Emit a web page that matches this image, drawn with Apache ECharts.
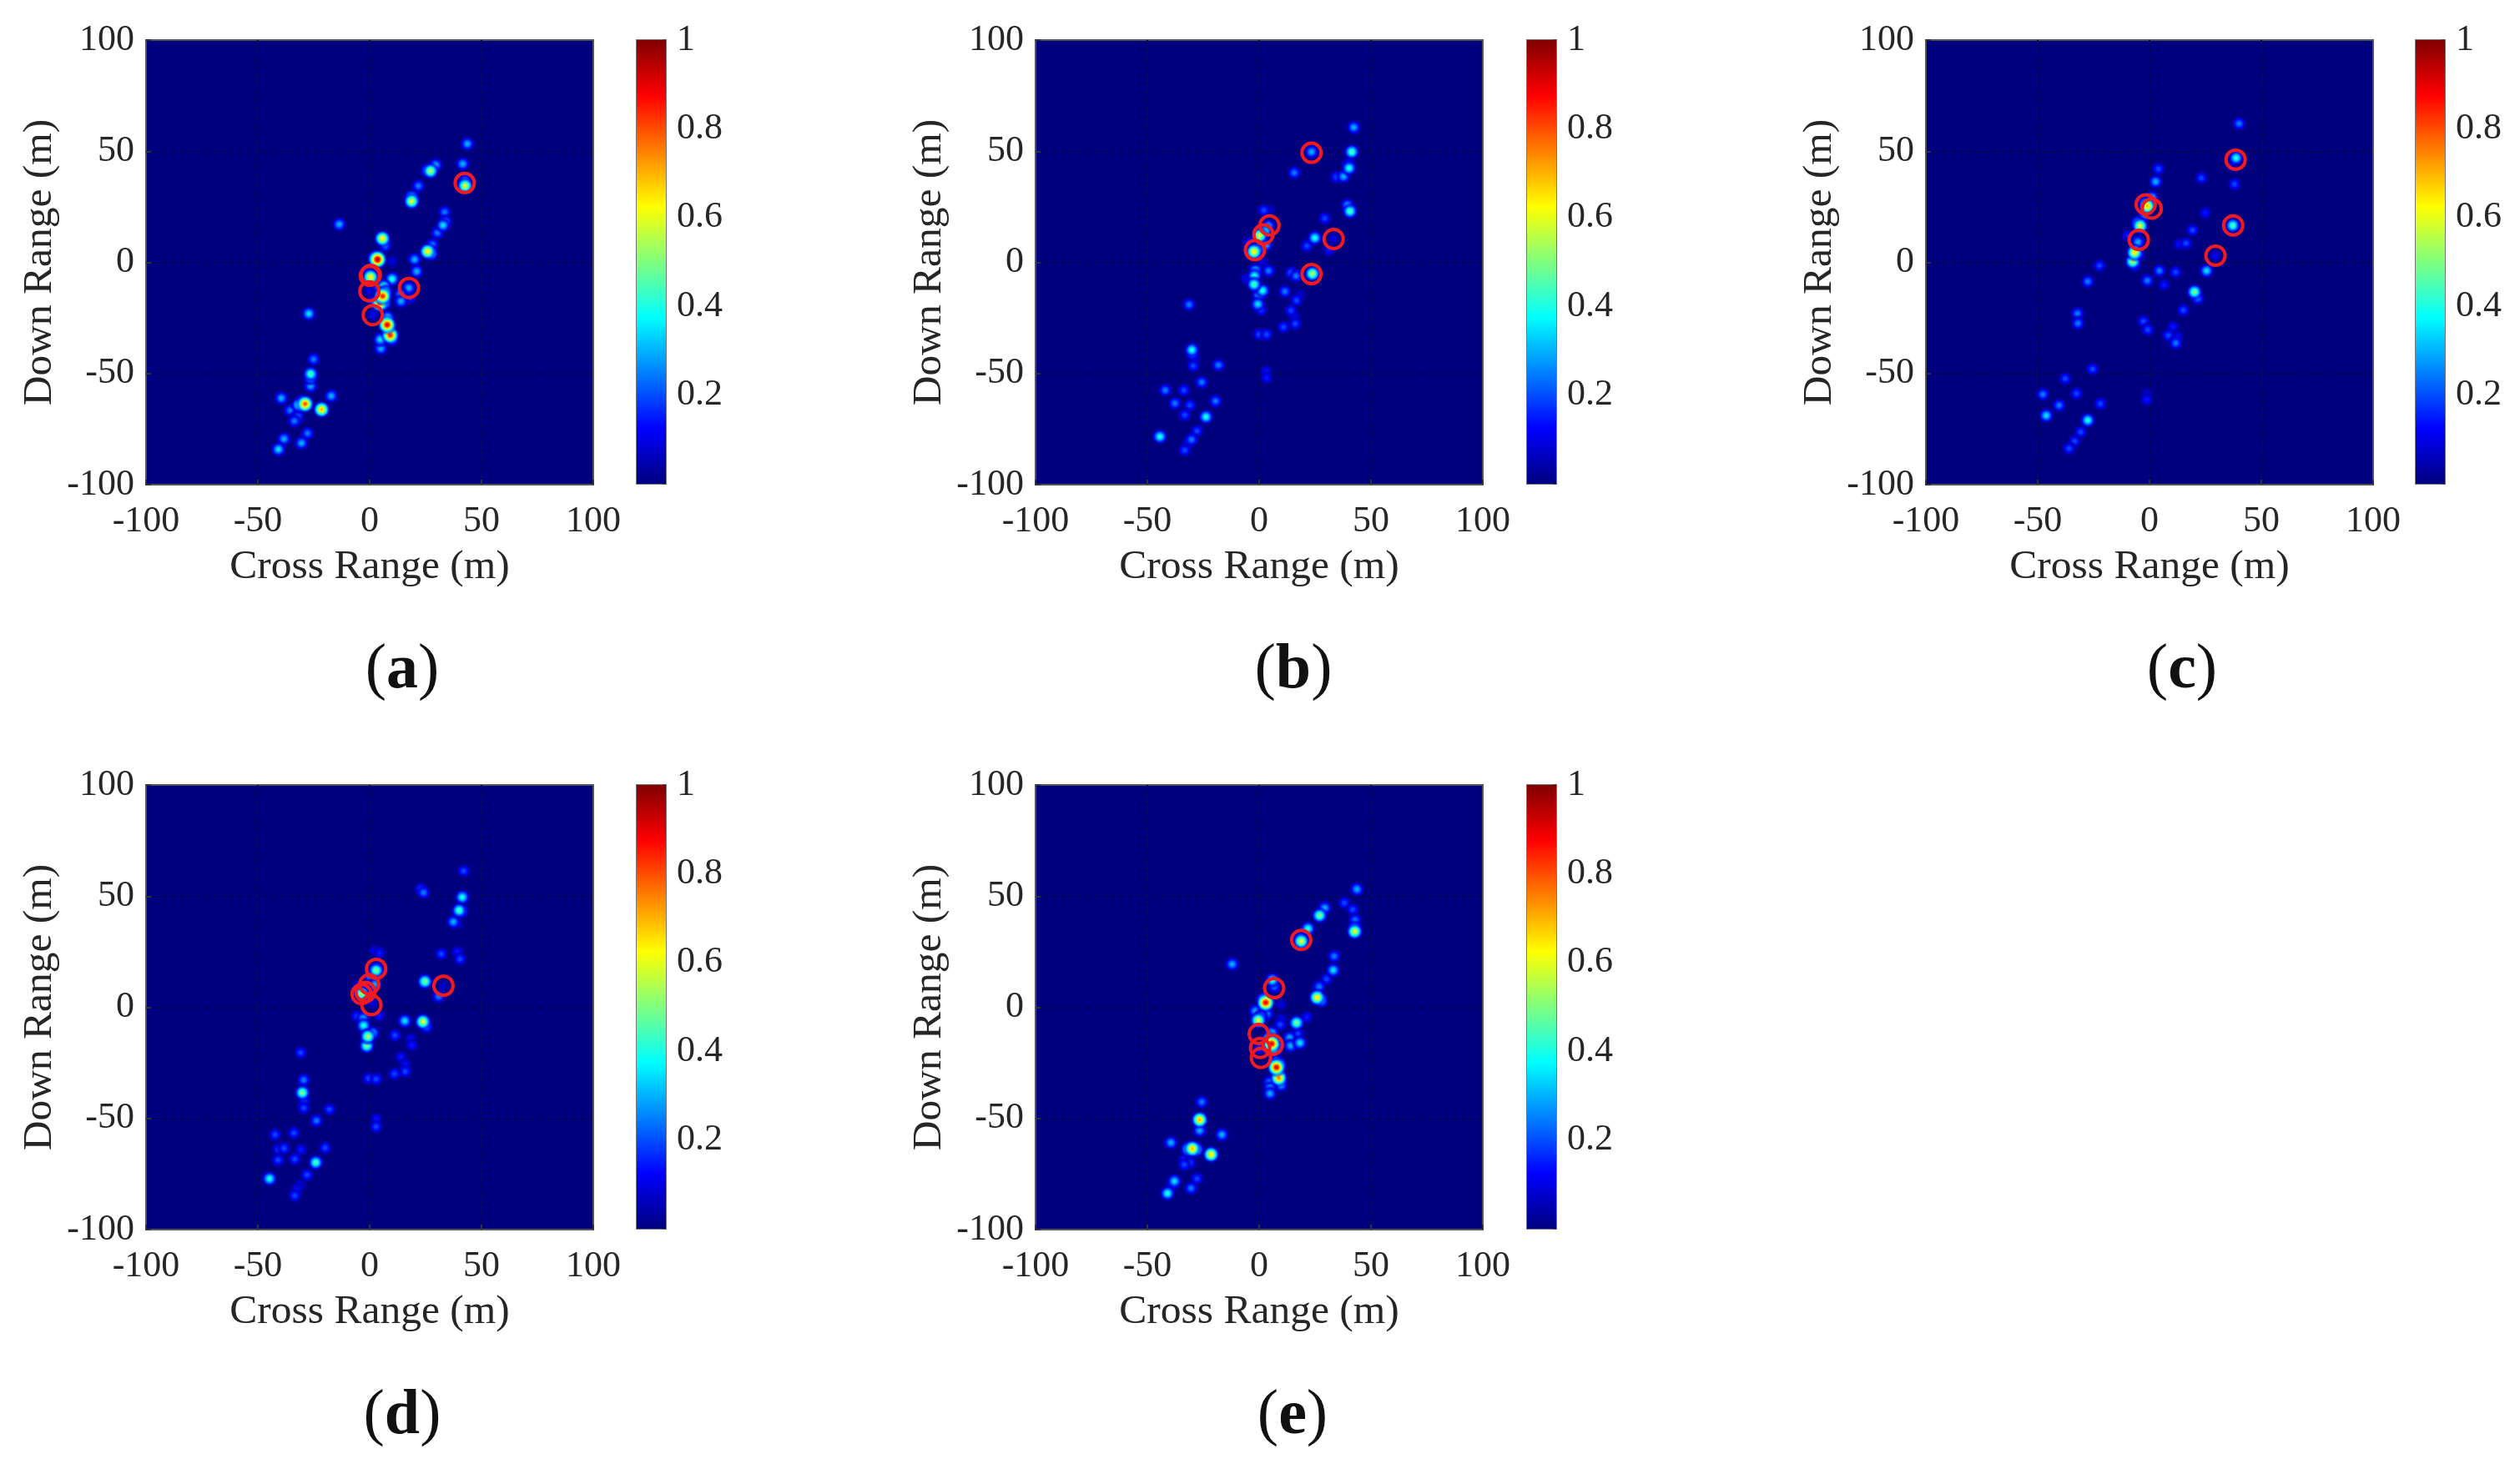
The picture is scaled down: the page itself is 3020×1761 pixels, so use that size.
<!DOCTYPE html>
<html>
<head>
<meta charset="utf-8">
<style>html,body{margin:0;padding:0;background:#fff}#c{width:3020px;height:1761px}</style>
<script src="https://cdn.jsdelivr.net/npm/echarts@6/dist/echarts.min.js"></script>
</head>
<body>
<div id="c"></div>
<script>
// Peak values: [cross range, down range, normalised amplitude]
const peaksA = [[43.7,53.3,.3],[41.6,44.3,.3],[29.5,43.8,.3],[27.2,41.1,.55],[25.8,41.4,.35],[21.8,34.4,.25],[42.7,36.7,.3],[42.7,34.4,.6],[18.8,29.2,.45],[18.8,27.5,.6],[33.5,22.6,.25],[33.9,18.2,.3],[32.8,16.7,.35],[30.3,13.3,.25],[28,8,.25],[25.9,4.9,.65],[27.4,4,.45],[-13.6,17.1,.3],[5.7,10.7,.65],[7,7.6,.25],[3.5,1.3,.95],[2.4,1.9,.5],[10,.4,.1],[20.1,1.3,.3],[21,-4.1,.3],[.4,-6.6,.65],[-1.1,-3.4,.15],[10,-7.5,.4],[17.5,-11.5,.3],[17.9,-15.9,.2],[13.8,-14.4,.3],[14,-17.5,.3],[6.3,-10.9,.45],[4.5,-11.2,.35],[5.8,-15.2,.85],[7,-13.4,.45],[4.5,-18.4,.8],[6.3,-18.2,.5],[2,-17.8,.25],[-.1,-13,.1],[1.4,-23.7,.12],[8,-24.7,.35],[7.8,-28.1,.9],[9.2,-32.8,.85],[10,-34.7,.3],[4.7,-34.7,.35],[5,-38.7,.3],[-27.2,-23.1,.35],[-25.1,-43.6,.25],[-26.4,-50.2,.45],[-26.4,-51.8,.4],[-26.4,-55.6,.3],[-17.2,-60.1,.3],[-39.5,-61.1,.3],[-28.9,-63.7,.8],[-31.6,-64.1,.45],[-30.2,-62.8,.4],[-21.5,-66.2,.7],[-35.6,-66.6,.25],[-32.2,-69.5,.25],[-33.7,-71.4,.25],[-27.8,-76.9,.25],[-38.3,-79.4,.3],[-30.5,-81.3,.3],[-40.8,-84.1,.35]];
const peaksB = [[42.3,60.7,.3],[41.4,49.7,.45],[23.4,49.7,.3],[15.7,40.3,.25],[40.2,42.4,.4],[40,44.3,.2],[37.7,38.6,.3],[34.5,38.4,.2],[39.5,25.7,.3],[40.6,23,.45],[29.3,19.8,.2],[24.9,11,.4],[21.3,7.4,.2],[31.2,5.5,.15],[33.3,10.7,.1],[23.8,-5.1,.55],[14.4,-4.8,.25],[16.5,-6.1,.25],[2.1,23.4,.2],[4.6,23.4,.1],[4.2,16.4,.3],[2.5,13.9,.4],[.2,12,.6],[3.1,7.8,.3],[-2.3,4.8,.65],[-.6,5.8,.35],[-4.8,9,.15],[1.5,0,.1],[4.2,-3.8,.25],[-1.7,-3.6,.35],[-2.1,-6.1,.4],[-2.3,-9.9,.45],[-5.9,-7.4,.12],[1.5,-12.7,.4],[0,-14.7,.35],[11.5,-13.1,.25],[-.6,-18.8,.35],[.8,-21.3,.2],[18.2,-14.7,.1],[16.7,-17.1,.2],[14.2,-21.7,.2],[15.7,-24.4,.15],[16.1,-27.6,.2],[10.9,-29.1,.2],[0,-32.4,.2],[3.3,-32.4,.2],[3.1,-49.1,.15],[3.3,-52,.15],[-31.4,-19,.25],[-30.1,-39.4,.4],[-29.9,-41,.3],[-28.9,-43.8,.15],[-29.5,-46.6,.2],[-18.2,-46.2,.25],[-25.7,-53.9,.25],[-42,-57.5,.25],[-33.7,-57.5,.2],[-37.7,-63.4,.25],[-31,-64.3,.2],[-19.5,-62.4,.25],[-33.3,-68.7,.2],[-23.8,-69.5,.4],[-44.4,-78.4,.4],[-27.8,-75.9,.2],[-30.3,-79.7,.25],[-31.6,-81.4,.2],[-33.3,-84.5,.2]];
const peaksC = [[40,62.4,.25],[38.7,47,.4],[36.6,43.4,.1],[38,35.2,.2],[23.2,37.9,.2],[4,42.1,.2],[2.7,36.3,.3],[1,29.1,.35],[-1,25.3,.7],[-1.9,26.6,.4],[-2.5,20.6,.25],[-4.2,16.4,.6],[-5.2,17.7,.4],[-9.8,12,.15],[-5.2,9.1,.3],[-6.7,4.4,.65],[-5.2,3.4,.3],[-7.5,.4,.55],[-6.7,-1.3,.2],[-22.4,-1.5,.2],[-27.6,-8.6,.25],[-32.2,-23,.25],[-32,-27.4,.25],[37.2,16.6,.45],[24.9,22.3,.15],[19.2,14.5,.2],[16.3,8.6,.2],[13.2,8.2,.15],[29.5,3,.12],[25.5,-3.8,.35],[4.4,-3.8,.25],[11.7,-4.4,.2],[-1,-8.2,.25],[6.5,-10.1,.15],[20.1,-13.3,.5],[21.5,-16.2,.25],[15.1,-21.5,.2],[-2.7,-26.5,.2],[-.8,-30.3,.2],[10.5,-29.1,.15],[8.4,-32.9,.2],[12.3,-33.5,.15],[11.7,-36.3,.25],[-25.5,-48,.2],[-37.7,-52.3,.2],[-47.7,-59.4,.25],[-32.6,-59,.2],[-1.3,-59.2,.1],[-1.3,-61.8,.15],[-40.4,-64.3,.25],[-22,-63.6,.2],[-46.2,-68.9,.35],[-27.6,-71,.4],[-30.8,-76.3,.2],[-33.5,-80.5,.2],[-36,-83.7,.2]];
const peaksD = [[42,61.3,.2],[41.4,49.5,.4],[23,53.1,.25],[24.1,51.6,.25],[40,43.6,.45],[41,43.2,.35],[37.4,38.4,.3],[39.5,37.6,.1],[32,24,.2],[39.3,24.9,.15],[40.4,21.7,.2],[24.7,11.6,.5],[30.8,4.8,.25],[33,9.5,.08],[2.3,25.3,.15],[4.4,24.5,.15],[2.9,16.6,.5],[3.3,17.9,.2],[.2,14.1,.3],[2.3,10.3,.3],[.2,8.4,.25],[-3.6,6.1,.55],[-.8,4.6,.3],[-5,9.3,.15],[1.3,1.7,.1],[-5.6,-4,.2],[-2.9,-4.9,.3],[4.4,-3.8,.15],[-2.7,-8.2,.4],[15.7,-6.1,.35],[23.8,-6.5,.6],[25.3,-8.8,.25],[1.3,-11.6,.35],[-.8,-13.1,.55],[-1.3,-17.3,.5],[11.3,-12.6,.2],[18.4,-14.5,.15],[18.8,-17.1,.15],[14,-22.5,.15],[15.9,-25.9,.15],[15.9,-28.9,.2],[11.1,-29.9,.2],[-.4,-32,.2],[2.9,-32.3,.2],[2.9,-50.4,.15],[2.9,-53.7,.2],[-30.8,-20.4,.2],[-29.5,-32.7,.25],[-30.1,-38.4,.5],[-29.3,-42.4,.2],[-29.5,-45.3,.2],[-18,-45.9,.2],[-23.8,-51,.25],[-42.3,-57.3,.2],[-33.9,-56.5,.2],[-40.8,-63.9,.2],[-38.3,-63.4,.2],[-30.8,-64.1,.15],[-19.9,-63.2,.2],[-41,-68.7,.2],[-33.5,-68.3,.2],[-24.1,-69.8,.45],[-28,-75.4,.2],[-44.8,-77.1,.4],[-31.2,-79.9,.12],[-32.6,-82,.15],[-33.5,-84.7,.2]];
const peaksE = [[43.7,53.1,.3],[38.1,47,.2],[41.8,44,.2],[42.9,39.2,.25],[42.7,34.1,.6],[42.7,35.6,.4],[29.3,44.7,.3],[27,41.3,.5],[21.8,35.4,.4],[18.8,29.7,.6],[18.4,31.2,.3],[33.5,23,.25],[33.1,16.7,.35],[30.1,12.7,.2],[26.8,9.3,.25],[25.9,4.4,.65],[27.6,3.2,.4],[-12.1,19.4,.3],[5.9,12.2,.4],[6.7,9.3,.25],[2.9,2.1,.9],[1.9,3.6,.4],[9.8,1.3,.1],[-1.7,-1.7,.3],[3.6,-3,.25],[.8,-4,.3],[-.4,-5.9,.6],[9.8,-5.5,.15],[9.4,-7.8,.2],[16.7,-7,.5],[21.3,-4.4,.15],[5.6,-11.6,.35],[13.6,-13.7,.3],[17.2,-12,.2],[14,-17.3,.3],[18.2,-16,.35],[5.6,-16.4,.9],[4.6,-14.5,.6],[7.7,-18.3,.4],[6.7,-19.8,.4],[.2,-18.5,.2],[8.8,-25.9,.5],[7.7,-27,.9],[7.7,-24.8,.45],[8.8,-31.8,.75],[9.8,-35,.3],[4.6,-33.9,.3],[4.8,-36.3,.3],[4.8,-38.8,.3],[-25.7,-42.6,.25],[-26.6,-50.6,.7],[-26.6,-55.4,.3],[-16.7,-57.3,.3],[-39.5,-60.9,.3],[-29.9,-63.6,.7],[-31.6,-63.8,.5],[-28.2,-63.9,.5],[-21.5,-66.2,.65],[-33.5,-68.7,.2],[-31,-70,.2],[-33.5,-70.8,.2],[-27.8,-77.1,.2],[-37.9,-78.2,.35],[-38.5,-79.2,.3],[-30.5,-81.4,.25],[-41,-83.7,.4]];

// Red circles: [cross range, down range]
const circlesA = [[.1,-6.1],[.5,-5.6],[-.1,-13],[1.4,-23.7],[17.6,-11.5],[42.5,35.7]];
const circlesB = [[23.4,49.3],[4.6,16.6],[1.9,12.6],[-1.9,5.5],[33.3,10.5],[23.4,-5.3]];
const circlesC = [[38.5,46.2],[-1.7,26.1],[1,24.2],[37.4,16.6],[-4.8,10.1],[29.5,3]];
const circlesD = [[2.9,17.3],[-.2,10.3],[-3.6,5.9],[-1.9,6.9],[.8,1],[33,9.7]];
const circlesE = [[18.8,30.3],[6.7,8.6],[-.2,-12],[.4,-18.3],[.8,-22.8],[6.1,-16.9]];

const panelLabels = ['a','b','c','d','e'];
const axisTicks = [-100,-50,0,50,100];
const colorbarTicks = [0.2,0.4,0.6,0.8,1];
const colorbarTop = [1];

const peaks = [peaksA,peaksB,peaksC,peaksD,peaksE];
const circles = [circlesA,circlesB,circlesC,circlesD,circlesE];
const layout = [
  {l:175,t:48,lab:477,labY:799,cb:763},
  {l:1241,t:48,lab:1545,labY:799,cb:1830},
  {l:2308,t:48,lab:2610,labY:799,cb:2895},
  {l:175,t:941,lab:477,labY:1693,cb:763},
  {l:1241,t:941,lab:1544,labY:1693,cb:1830}
];
const W = 536, H = 533;
const FONT = '"Liberation Serif","Times New Roman",serif';
const INK = '#262626';

function jet(v){
  const c = t => Math.round(255*Math.max(0,Math.min(1,1.5-Math.abs(4*v-t))));
  return [c(3),c(2),c(1)];
}
function blob(v){
  const stops = [];
  for(let i=0;i<=10;i++){
    const t=i/10, val=v*Math.exp(-t*t*2.6), rgb=jet(val);
    const alpha = i===10 ? 0 : Math.min(1,(1-t)*2.6);
    stops.push({offset:t,color:`rgba(${rgb[0]},${rgb[1]},${rgb[2]},${alpha.toFixed(2)})`});
  }
  return new echarts.graphic.RadialGradient(.5,.5,.5,stops);
}
const jetStops = [];
for(let i=0;i<=16;i++){
  const rgb=jet(1-i/16);
  jetStops.push({offset:i/16,color:`rgb(${rgb[0]},${rgb[1]},${rgb[2]})`});
}

const grid=[],xAxis=[],yAxis=[],series=[],title=[];
peaks.forEach((pts,i)=>{
  const p=layout[i], g=grid.length;
  grid.push({left:p.l,top:p.t,width:W,height:H,show:true,backgroundColor:'#00007f',borderColor:'#555',borderWidth:2});
  const axisBase={type:'value',min:axisTicks[0],max:axisTicks[4],interval:50,gridIndex:g,
    axisLine:{show:true,onZero:false,lineStyle:{color:'#555',width:2}},
    axisTick:{show:true,inside:true,length:6,lineStyle:{color:'#333',width:2}},
    axisLabel:{fontFamily:FONT,fontSize:44,color:INK},
    splitLine:{show:true,showMinLine:false,showMaxLine:false,lineStyle:{color:'#0a0a50',type:[5,5],width:2}},
    nameLocation:'middle',nameTextStyle:{fontFamily:FONT,fontSize:49.5,color:INK}};
  xAxis.push({...axisBase,name:'Cross Range (m)',nameGap:74,axisLabel:{...axisBase.axisLabel,margin:22}});
  yAxis.push({...axisBase,name:'Down Range (m)',nameGap:102,axisLabel:{...axisBase.axisLabel,margin:14}});
  const sorted=[...pts].sort((a,b)=>a[2]-b[2]);
  series.push({type:'scatter',xAxisIndex:g,yAxisIndex:g,silent:true,z:2,
    data:sorted.map(d=>({value:d,symbolSize:18+8*d[2],itemStyle:{color:blob(d[2]),opacity:1}}))});
  series.push({type:'scatter',xAxisIndex:g,yAxisIndex:g,silent:true,z:3,symbol:'circle',symbolSize:23,
    itemStyle:{color:'rgba(0,0,0,0)',borderColor:'#f01a20',borderWidth:4,opacity:1},data:circles[i]});

  const b=grid.length;
  grid.push({left:p.cb,top:p.t,width:35,height:H-1,show:true,backgroundColor:'#fff',borderColor:'#777',borderWidth:2});
  xAxis.push({type:'category',gridIndex:b,data:[''],show:false});
  yAxis.push({type:'value',gridIndex:b,position:'right',min:0,max:1,interval:.2,
    axisLine:{show:false},splitLine:{show:false},
    axisTick:{show:true,inside:true,length:4,lineStyle:{color:'#555',width:2}},
    axisLabel:{fontFamily:FONT,fontSize:44,color:INK,margin:13,
      formatter:v=>colorbarTicks.includes(+v.toFixed(1))?String(+v.toFixed(1)):''}});
  series.push({type:'bar',xAxisIndex:b,yAxisIndex:b,silent:true,barWidth:'100%',data:colorbarTop,
    itemStyle:{color:new echarts.graphic.LinearGradient(0,0,0,1,jetStops)}});

  title.push({text:`{p|(}{b|${panelLabels[i]}}{p|)}`,left:p.lab,top:p.labY,textAlign:'center',textVerticalAlign:'middle',
    textStyle:{rich:{p:{fontFamily:FONT,fontSize:76,fontWeight:'normal',color:'#111'},b:{fontFamily:FONT,fontSize:76,fontWeight:'bold',color:'#111'}}}});
});

const chart=echarts.init(document.getElementById('c'),null,{renderer:'canvas'});
chart.setOption({backgroundColor:'#fff',animation:false,title,grid,xAxis,yAxis,series});
</script>
</body>
</html>
